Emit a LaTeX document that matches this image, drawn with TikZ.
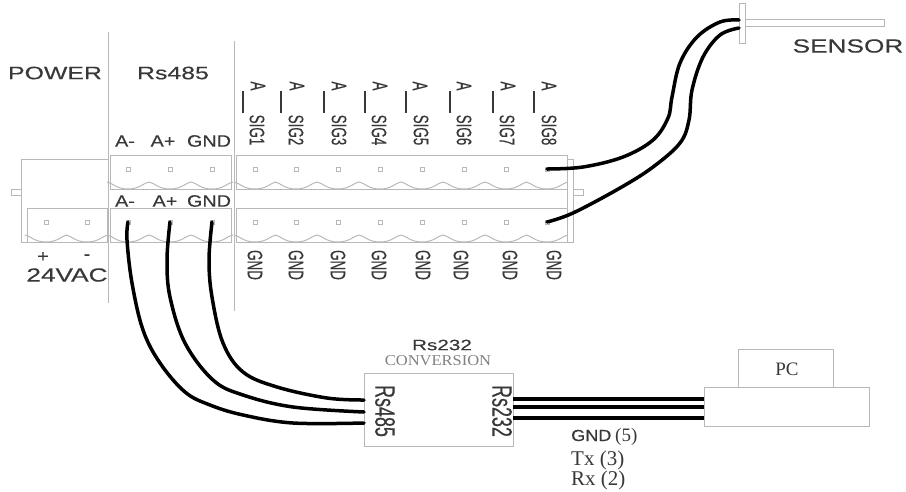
\documentclass[tikz,border=0pt]{standalone}
\usepackage{fontspec}
\setmainfont{Liberation Sans}
\newfontfamily\serifface{Liberation Serif}
\newfontfamily\serifwide[FakeStretch=1.1]{Liberation Serif}
\newfontfamily\wideface[FakeStretch=1.38,FakeBold=0.3]{Liberation Sans}
\newfontfamily\midface[FakeStretch=1.2,FakeBold=0.3]{Liberation Sans}
\newfontfamily\gndface[FakeStretch=1.13,FakeBold=0.3]{Liberation Sans}
\newfontfamily\narrowface[FakeStretch=0.64,FakeBold=0.3]{Liberation Sans}
\definecolor{boxgray}{gray}{0.72}
\definecolor{txtgray}{gray}{0.22}
\tikzset{
  x=1pt,y=-1pt,
  boxline/.style={draw=boxgray,line width=1pt},
  wavy/.style={draw=boxgray,line width=1pt},
  pin/.style={draw=boxgray,line width=0.7pt,fill=white,minimum size=4pt,inner sep=0pt,rectangle},
  wire/.style={draw=black,line width=3.5pt,line cap=round,line join=round},
  rwire/.style={draw=black,line width=3.2pt},
  lab/.style={text=txtgray,inner sep=0pt},
  bigl/.style={lab,font=\wideface\fontsize{18}{18}\selectfont},
  midl/.style={lab,font=\midface\fontsize{16.5}{16.5}\selectfont},
  sidel/.style={lab,font=\narrowface\fontsize{21}{21}\selectfont,rotate=-90},
  boxl/.style={lab,font=\narrowface\fontsize{28}{28}\selectfont,rotate=-90},
  baronly/.style={draw=txtgray,line width=1.1pt},
  term/.style={draw=boxgray,line width=1pt,rectangle,inner sep=0pt,anchor=north west},
}
\newcommand{\wavestrip}[2]{%
  \foreach \px in {#1} {
    \draw[wavy] (\px-21,#2-7) .. controls (\px-16,#2-6.5) and (\px-12,#2) .. (\px,#2) .. controls (\px+12,#2) and (\px+16,#2-6.5) .. (\px+21,#2-7);
  }
}
\begin{document}
\begin{tikzpicture}
\useasboundingbox (0,0) rectangle (906,491);
% dividers
\draw[boxline] (108,32) -- (108,303);
\draw[boxline] (234,41) -- (234,311);
% power block
\node[term,minimum width=87pt,minimum height=83pt] (pwrouter) at (21,159) {};
\node[term,minimum width=80pt,minimum height=34pt] (pwrinner) at (27,208) {};
\node[term,minimum width=10pt,minimum height=6pt] (pwrtab) at (11,189) {};
% outer sig back plate
\node[term,minimum width=6pt,minimum height=83pt] (sigback) at (567,159) {};
\node[term,minimum width=10pt,minimum height=6pt] (sigtab) at (573,189) {};
% terminal strips
\node[term,minimum width=121pt,minimum height=34pt] (rstop) at (110,155) {};
\node[term,minimum width=121pt,minimum height=34pt] (rsbot) at (110,208) {};
\node[term,minimum width=331pt,minimum height=34pt] (sigtop) at (236,155) {};
\node[term,minimum width=331pt,minimum height=34pt] (sigbot) at (236,208) {};
% scallops
\wavestrip{46,87}{242}
\wavestrip{128,170,212}{242}
\wavestrip{128,170,212}{189}
\wavestrip{255,296,338,380,422,464,506,547}{242}
\wavestrip{255,296,338,380,422,464,506,547}{189}
% pins
\foreach \n/\px in {p1/46,p2/87} \node[pin] (\n) at (\px,222) {};
\foreach \n/\px in {ra/128,rb/170,rc/212} {
  \node[pin] (\n t) at (\px,169) {};
  \node[pin] (\n) at (\px,222) {};
}
\foreach \i/\px in {1/255,2/296,3/338,4/380,5/422,6/464,7/506,8/547} {
  \node[pin] (st\i) at (\px,169) {};
  \node[pin] (sb\i) at (\px,222) {};
}
% labels
\node[bigl] (lpower) at (55,73) {POWER};
\node[bigl] (lrs) at (173,73) {Rs485};
\node[midl] (l1) at (125,141) {A-};
\node[midl] (l2) at (163,141) {A+};
\node[midl] (l3) at (209,141) {GND};
\node[midl] (l4) at (125,201) {A-};
\node[midl] (l5) at (165,201) {A+};
\node[midl] (l6) at (209,201) {GND};
\node[midl] (lplus) at (43,257) {+};
\node[midl] (lminus) at (87,257) {-};
\node[lab,font=\wideface\fontsize{19}{19}\selectfont] (lvac) at (67,275) {24VAC};
% signal labels
\foreach \i/\ax/\bx/\sx in {1/258/243/257,2/297/281/296,3/339/324/339,4/380/365/379,5/420/406/421,6/464/450/464,7/508/493/507,8/549/534/549} {
  \node[sidel] (sa\i) at (\ax,86) {A};
  \draw[baronly] (\bx,91) -- (\bx,113);
  \node[sidel] (sl\i) at (\sx,130) {SIG\i};
}
\foreach \i/\gx in {1/255,2/296,3/338,4/379,5/423,6/461,7/510,8/554} {
  \node[sidel] (gl\i) at (\gx,265) {GND};
}
% sensor
\node[term,minimum width=139pt,minimum height=7pt] (probe) at (745,19) {};
\node[term,minimum width=6pt,minimum height=40pt] (flange) at (739,3) {};
\coordinate (s1) at (739,20);
\coordinate (s2) at (739,28);
\node[lab,font=\wideface\fontsize{19}{19}\selectfont] (lsensor) at (848,46) {SENSOR};
\draw[wire] plot[smooth,tension=0.6] coordinates {(st8.center) (583,167) (623,157) (653,140) (668,118) (672,97) (680,63) (697,37) (720,22) (s1)};
\draw[wire] plot[smooth,tension=0.6] coordinates {(sb8.center) (573,213) (620,188) (653,167) (680,143) (689,120) (692,90) (703,57) (720,35) (s2)};
% conversion
\node[term,minimum width=149pt,minimum height=73pt] (conv) at (364,373) {};
\node[lab,font=\wideface\fontsize{15}{15}\selectfont] (lc1) at (442,345) {Rs232};
\node[lab,font=\serifwide\fontsize{15}{15}\selectfont,text=gray] (lc2) at (438,361) {CONVERSION};
\node[boxl] (lc3) at (385,411) {Rs485};
\node[boxl] (lc4) at (502,411) {Rs232};
\coordinate (c1) at (364,400);
\coordinate (c2) at (364,412);
\coordinate (c3) at (364,423);
\draw[wire] plot[smooth,tension=0.6] coordinates {(ra.center) (127,240) (132,283) (143,330) (160,363) (185,392) (210,405) (243,415) (293,423) (c3)};
\draw[wire] plot[smooth,tension=0.6] coordinates {(rb.center) (167,260) (170,297) (185,343) (213,380) (243,395) (293,407) (c2)};
\draw[wire] plot[smooth,tension=0.6] coordinates {(rc.center) (209,260) (212,297) (223,343) (243,372) (277,387) (327,398) (c1)};
% PC
\node[term,minimum width=165pt,minimum height=39pt] (pcbase) at (704,387) {};
\node[term,minimum width=95pt,minimum height=38pt] (pctop) at (738,349) {};
\node[lab,font=\serifface\fontsize{19}{19}\selectfont] at (787,369) (lpc) {PC};
\coordinate (w1a) at (513,399); \coordinate (w1b) at (704,399);
\coordinate (w2a) at (513,407); \coordinate (w2b) at (704,407);
\coordinate (w3a) at (513,418); \coordinate (w3b) at (704,418);
\draw[rwire] (w1a) -- (w1b);
\draw[rwire] (w2a) -- (w2b);
\draw[rwire] (w3a) -- (w3b);
\node[lab,font=\gndface\fontsize{16}{16}\selectfont,anchor=base west] (lg) at (571,441) {GND};
\node[lab,font=\serifface\fontsize{19}{19}\selectfont,anchor=base west] (lg5) at (615,441) {(5)};
\node[lab,font=\serifface\fontsize{21}{21}\selectfont,anchor=base west] (ltx) at (571,465) {Tx (3)};
\node[lab,font=\serifface\fontsize{21}{21}\selectfont,anchor=base west] (lrx) at (571,485) {Rx (2)};
\end{tikzpicture}
\end{document}
